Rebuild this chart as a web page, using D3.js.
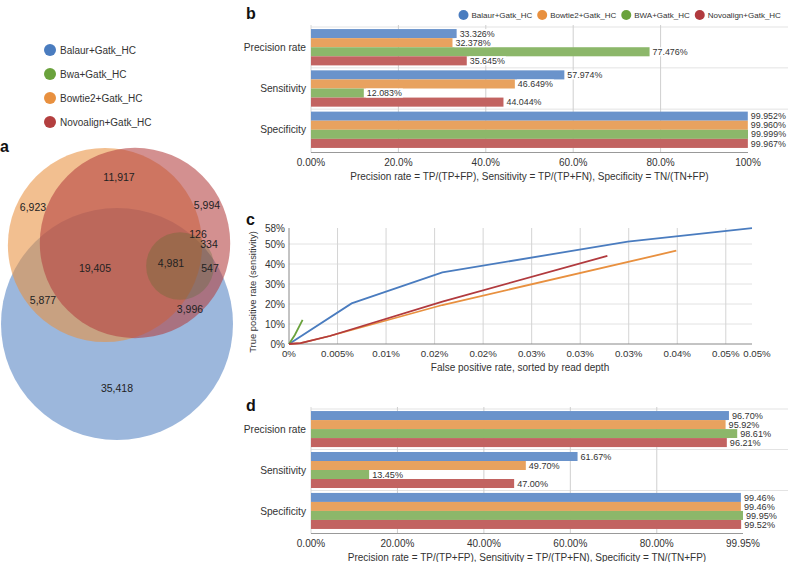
<!DOCTYPE html>
<html>
<head>
<meta charset="utf-8">
<script src="https://cdn.jsdelivr.net/npm/d3@7"></script>
<style>
  body { margin: 0; background: #fff; }
  svg { display: block; font-family: "Liberation Sans", Arial, Helvetica, sans-serif; }
</style>
</head>
<body>
<svg id="chart" width="788" height="562"></svg>
<script>
// ---- data ----
const series = ["Balaur+Gatk_HC", "Bowtie2+Gatk_HC", "BWA+Gatk_HC", "Novoalign+Gatk_HC"];
const metrics = ["Precision rate", "Sensitivity", "Specificity"];

// panel b (raw calls)
const rawPrecision = [33.326, 32.378, 77.476, 35.645];
const rawSensitivity = [57.974, 46.649, 12.083, 44.044];
const rawSpecificity = [99.952, 99.960, 99.999, 99.967];
const rawTicks = [0, 20, 40, 60, 80, 100];
const rawTickLabels = ["0.00%", "20.0%", "40.0%", "60.0%", "80.0%", "100%"];

// panel d (filtered)
const filtPrecision = [96.70, 95.92, 98.61, 96.21];
const filtSensitivity = [61.67, 49.70, 13.45, 47.00];
const filtSpecificity = [99.46, 99.46, 99.95, 99.52];
const filtTicks = [0, 20, 40, 60, 80, 99.95];
const filtTickLabels = ["0.00%", "20.00%", "40.00%", "60.00%", "80.00%", "99.95%"];

// panel c (ROC, % units)
const balaurFpr = [0, 0.00645, 0.0158, 0.0349, 0.0477];
const balaurTpr = [0, 20.3, 35.8, 51.2, 57.974];
const bowtieFpr = [0, 0.0012, 0.0042, 0.0158, 0.0399];
const bowtieTpr = [0, 0.4, 4.0, 19.5, 46.649];
const bwaFpr = [0, 0.0006, 0.0014];
const bwaTpr = [0, 4.5, 12.083];
const novoFpr = [0, 0.0012, 0.0042, 0.0158, 0.0328];
const novoTpr = [0, 0.4, 4.0, 21.2, 44.044];
const rocXTicks = [0, 0.005, 0.01, 0.015, 0.02, 0.025, 0.03, 0.035, 0.04, 0.045, 0.0477];
const rocXLabels = ["0%", "0.005%", "0.01%", "0.02%", "0.02%", "0.03%", "0.03%", "0.03%", "0.04%", "0.05%", "0.05%"];
const rocYTicks = [0, 10, 20, 30, 40, 50, 58];

// panel a (venn)
const vennLegend = ["Balaur+Gatk_HC", "Bwa+Gatk_HC", "Bowtie2+Gatk_HC", "Novoalign+Gatk_HC"];
const vennKeys = ["Balaur", "Bwa", "Bowtie2", "Novoalign"];
const regionSets = [
  ["Balaur"], ["Bowtie2"], ["Novoalign"], ["Bowtie2", "Novoalign"],
  ["Balaur", "Bowtie2"], ["Balaur", "Bowtie2", "Novoalign"],
  ["Balaur", "Bwa", "Bowtie2", "Novoalign"], ["Bwa", "Bowtie2", "Novoalign"],
  ["Bwa", "Novoalign"], ["Balaur", "Bwa", "Novoalign"], ["Balaur", "Novoalign"]
];
const regionCounts = [35418, 6923, 5994, 11917, 5877, 19405, 4981, 126, 334, 547, 3996];

// ---- styles / layout ----
const strong = { Balaur: "#4a7cbf", Bwa: "#6aa23c", Bowtie2: "#e8903f", Novoalign: "#b33f3f" };
const lineColors = ["#4a7cbf", "#e8903f", "#6aa23c", "#b13a3e"];
const barColors = ["#6a93cb", "#e8a25f", "#8cb76a", "#c26361"];
const vennCenters = { Balaur: [117, 324], Bowtie2: [105, 245], Novoalign: [135, 243], Bwa: [180, 266] };
const regionLabelPos = [[117, 388], [33, 207], [207, 205], [119, 177], [43, 300], [95, 268],
  [171, 263], [198, 234], [209, 244], [210, 268], [190, 309]];

const svg = d3.select("#chart");
const fmtInt = d3.format(",");

function panelLetter(t, x, y) {
  svg.append("text").attr("x", x).attr("y", y).text(t)
    .attr("font-size", 16).attr("font-weight", "bold").attr("fill", "#111");
}

// ---- panel a ----
const legA = svg.append("g");
vennLegend.forEach((name, i) => {
  const yy = 50 + i * 24;
  legA.append("circle").attr("cx", 50).attr("cy", yy).attr("r", 6).attr("fill", strong[vennKeys[i]]);
  legA.append("text").attr("x", 60).attr("y", yy).attr("dy", "0.35em")
    .attr("font-size", 10).attr("fill", "#333").text(name);
});
panelLetter("a", 0, 152);

const setTotals = {};
vennKeys.forEach(k => {
  setTotals[k] = d3.sum(regionCounts.filter((c, i) => regionSets[i].includes(k)));
});
const rScale = d3.scaleSqrt().domain([0, d3.max(Object.values(setTotals))]).range([0, 116]);
const drawOrder = ["Balaur", "Bowtie2", "Novoalign", "Bwa"];
const vennOpacity = { Balaur: 0.55, Bowtie2: 0.58, Novoalign: 0.58, Bwa: 0.28 };
const vennFill = { Balaur: "#4a7cbf", Bowtie2: "#e8903f", Novoalign: "#b34040", Bwa: "#4d6a28" };
svg.append("g").selectAll("circle").data(drawOrder).join("circle")
  .attr("cx", d => vennCenters[d][0]).attr("cy", d => vennCenters[d][1])
  .attr("r", d => rScale(setTotals[d]))
  .attr("fill", d => vennFill[d]).attr("fill-opacity", d => vennOpacity[d]);
svg.append("g").selectAll("text").data(regionCounts).join("text")
  .attr("x", (d, i) => regionLabelPos[i][0]).attr("y", (d, i) => regionLabelPos[i][1])
  .attr("dy", "0.35em").attr("text-anchor", "middle")
  .attr("font-size", 10.5).attr("fill", "#222").text(d => fmtInt(d));

// ---- bar panels (b, d) ----
function barPanel(values, o) {
  const g = svg.append("g");
  const x = d3.scaleLinear().domain([0, o.xMax]).range([311, o.xEnd]);
  const y0 = d3.scaleBand().domain(metrics).range(o.yRange).paddingInner(0.12).paddingOuter(0.05);
  const y1 = d3.scaleBand().domain(series).range([0, y0.bandwidth()]);
  const axisY = o.yRange[1] + 2.5;

  // separators between groups
  const seps = [o.yRange[0]].concat(metrics.slice(1).map(m => y0(m) - (y0.step() - y0.bandwidth()) / 2));
  g.selectAll(".sep").data(seps).join("line")
    .attr("x1", 311).attr("x2", 788).attr("y1", d => d).attr("y2", d => d)
    .attr("stroke", "#e3e3e3");
  g.selectAll(".grid").data(o.ticks.slice(1, -1)).join("line")
    .attr("x1", d => x(d)).attr("x2", d => x(d))
    .attr("y1", o.yRange[0] - 2).attr("y2", axisY)
    .attr("stroke", "#cfcfcf");
  g.append("line").attr("x1", 311).attr("x2", 311).attr("y1", o.yRange[0] - 2).attr("y2", axisY)
    .attr("stroke", "#d8d8d8");

  const rows = [];
  metrics.forEach((m, mi) => series.forEach((s, si) => rows.push({ m, s, si, v: values[mi][si] })));

  g.selectAll(".bar").data(rows).join("rect")
    .attr("x", x(0)).attr("y", d => y0(d.m) + y1(d.s))
    .attr("width", d => x(d.v) - x(0)).attr("height", y1.bandwidth())
    .attr("fill", d => barColors[d.si]);

  const lab = g.selectAll(".lab").data(rows).join("g")
    .attr("transform", d => `translate(${x(d.v) + 2},${y0(d.m) + y1(d.s) + y1.bandwidth() / 2})`);
  lab.append("rect").attr("fill", "#fff");
  const tx = lab.append("text").attr("x", 1).attr("dy", "0.35em")
    .attr("font-size", o.labelSize).attr("fill", "#333").text(d => o.fmt(d.v) + "%");
  tx.each(function () {
    const w = this.getComputedTextLength();
    d3.select(this.previousSibling).attr("x", 0).attr("y", -4.5).attr("width", w + 2).attr("height", 9);
  });

  g.selectAll(".cat").data(metrics).join("text")
    .attr("x", 306).attr("y", d => y0(d) + y0.bandwidth() / 2).attr("dy", "0.35em")
    .attr("text-anchor", "end").attr("font-size", 10.2).attr("fill", "#333").text(d => d);

  g.append("line").attr("x1", 311).attr("x2", o.xEnd).attr("y1", axisY).attr("y2", axisY)
    .attr("stroke", "#999");
  g.selectAll(".tick").data(o.ticks).join("text")
    .attr("x", d => x(d)).attr("y", axisY + 13).attr("text-anchor", "middle")
    .attr("font-size", 10).attr("fill", "#333").text((d, i) => o.tickLabels[i]);
  g.append("text").attr("x", (311 + o.xEnd) / 2).attr("y", axisY + 27.5).attr("text-anchor", "middle")
    .attr("font-size", 10).attr("fill", "#333")
    .text("Precision rate = TP/(TP+FP), Sensitivity = TP/(TP+FN), Specificity = TN/(TN+FP)");
}

panelLetter("b", 246, 19);
barPanel([rawPrecision, rawSensitivity, rawSpecificity],
  { xMax: 100, xEnd: 748, yRange: [27, 150], ticks: rawTicks, tickLabels: rawTickLabels,
    fmt: d3.format(".3f"), labelSize: 8.9 });

// legend for b
const legB = svg.append("g");
let lx = 458.5;
series.forEach((s, i) => {
  legB.append("circle").attr("cx", lx + 5).attr("cy", 15).attr("r", 5).attr("fill", lineColors[i]);
  const t = legB.append("text").attr("x", lx + 13).attr("y", 15).attr("dy", "0.35em")
    .attr("font-size", 8).attr("fill", "#333").text(s);
  lx += 13 + t.node().getComputedTextLength() + 5;
});

panelLetter("d", 246, 411);
barPanel([filtPrecision, filtSensitivity, filtSpecificity],
  { xMax: 99.95, xEnd: 743, yRange: [409, 531], ticks: filtTicks, tickLabels: filtTickLabels,
    fmt: d3.format(".2f"), labelSize: 9.1 });

// ---- panel c ----
panelLetter("c", 246, 225);
const xc = d3.scaleLinear().domain([0, 0.0477]).range([289, 752]);
const yc = d3.scaleLinear().domain([0, 58]).range([344, 228]);
const gc = svg.append("g");
gc.selectAll(".hg").data(rocYTicks.slice(1, -1)).join("line")
  .attr("x1", xc(0)).attr("x2", xc(0.0477)).attr("y1", d => yc(d)).attr("y2", d => yc(d))
  .attr("stroke", "#e2e2e2");
gc.selectAll(".vg").data(rocXTicks.slice(1, -1)).join("line")
  .attr("x1", d => xc(d)).attr("x2", d => xc(d)).attr("y1", yc(58)).attr("y2", yc(0))
  .attr("stroke", "#d4d4d4");
gc.append("line").attr("x1", xc(0)).attr("x2", xc(0)).attr("y1", yc(58)).attr("y2", yc(0)).attr("stroke", "#888");
gc.append("line").attr("x1", xc(0)).attr("x2", xc(0.0477)).attr("y1", yc(0)).attr("y2", yc(0)).attr("stroke", "#888");

gc.selectAll(".yt").data(rocYTicks).join("text")
  .attr("x", 285).attr("y", d => yc(d)).attr("dy", "0.35em").attr("text-anchor", "end")
  .attr("font-size", 10).attr("fill", "#333").text(d => d + "%");
gc.selectAll(".xt").data(rocXTicks).join("text")
  .attr("x", (d, i) => xc(d) + (i === rocXTicks.length - 1 ? 5 : 0)).attr("y", 357).attr("text-anchor", "middle")
  .attr("font-size", 9.7).attr("fill", "#333").text((d, i) => rocXLabels[i]);
gc.append("text").attr("x", 520).attr("y", 371).attr("text-anchor", "middle")
  .attr("font-size", 10).attr("fill", "#333").text("False positive rate, sorted by read depth");
gc.append("text").attr("transform", "translate(256,292) rotate(-90)").attr("text-anchor", "middle")
  .attr("font-size", 9.4).attr("fill", "#333").text("True positive rate (sensitivity)");

const rocSeries = [[balaurFpr, balaurTpr], [bowtieFpr, bowtieTpr], [bwaFpr, bwaTpr], [novoFpr, novoTpr]];
const line = d3.line().x(d => xc(d[0])).y(d => yc(d[1]));
rocSeries.forEach(([fx, ty], i) => {
  gc.append("path").datum(d3.zip(fx, ty)).attr("d", line)
    .attr("fill", "none").attr("stroke", lineColors[i]).attr("stroke-width", 1.8);
});
</script>
</body>
</html>
